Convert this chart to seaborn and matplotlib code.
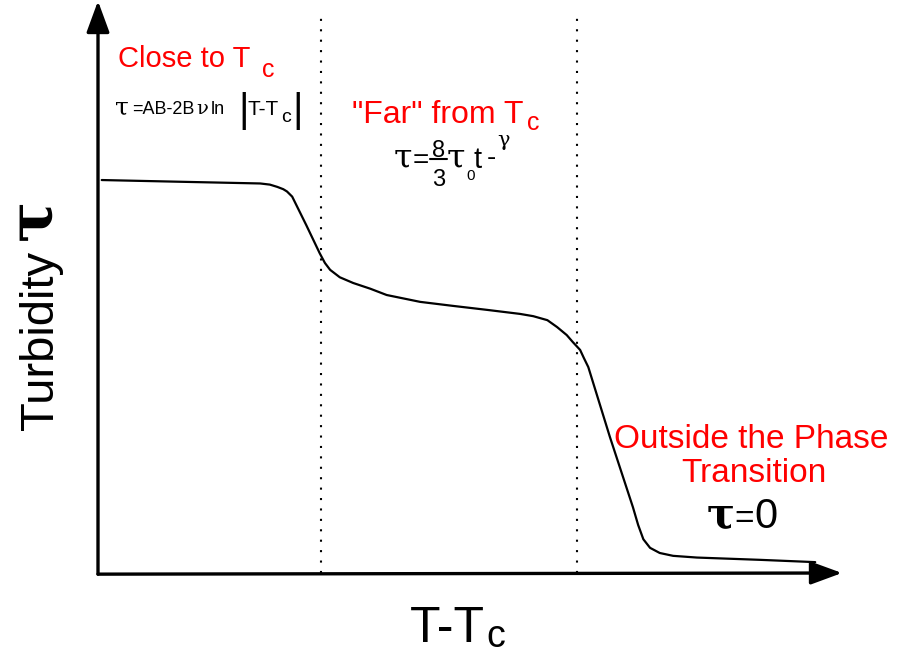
import matplotlib
matplotlib.use("Agg")
import matplotlib.pyplot as plt
from matplotlib.lines import Line2D
import seaborn as sns

sns.set_theme(style="white")
SANS = ["Liberation Sans", "DejaVu Sans"]
SERIF = ["DejaVu Serif"]
plt.rcParams["font.family"] = SANS

# Schematic turbidity curve versus distance from the critical temperature
temp = [0.05, 1.10, 2.18, 2.31, 2.41, 2.49, 2.54, 2.61, 2.80, 2.98, 3.05, 3.12,
        3.25, 3.43, 3.66, 3.88, 4.33, 4.77, 5.23, 5.67, 5.85, 6.04, 6.17, 6.30,
        6.38, 6.48, 6.53, 6.59, 6.88, 7.19, 7.26, 7.33, 7.42, 7.55, 7.73, 8.05,
        8.90, 9.64]
turbidity = [6.87, 6.84, 6.81, 6.79, 6.75, 6.71, 6.67, 6.58, 6.08, 5.59, 5.42, 5.30,
             5.17, 5.07, 4.97, 4.86, 4.74, 4.67, 4.60, 4.53, 4.49, 4.42, 4.30, 4.16,
             4.04, 3.90, 3.76, 3.60, 2.38, 1.15, 0.84, 0.59, 0.44, 0.35, 0.30, 0.27,
             0.23, 0.19]
boundaries = [3.0, 6.44]

W, H = 899, 656
fig = plt.figure(figsize=(W / 100, H / 100), dpi=100)
ax = fig.add_axes([98 / W, 83 / H, 744 / W, 572 / H])
ax.set_xlim(0, 10)
ax.set_ylim(0, 10)
ax.axis("off")

sns.lineplot(x=temp, y=turbidity, sort=False, color="black", lw=1.6, ax=ax)

for b in boundaries:
    ax.axvline(b, ymin=0, ymax=0.97, color="black", lw=1.5,
               linestyle=(0, (1, 4)))

arrow = dict(arrowstyle="-|>,head_length=0.6,head_width=0.22", lw=2.4,
             color="black", mutation_scale=32, shrinkA=0, shrinkB=0)
ax.annotate("", xy=(10, 0), xytext=(0, -0.02), arrowprops=arrow,
            annotation_clip=False)
ax.annotate("", xy=(0, 10), xytext=(0, -0.02), arrowprops=arrow,
            annotation_clip=False)


def put(x, y, s, size, family=SANS, weight="normal", color="black", **kw):
    """Place text with its left baseline at pixel (x, y) from the top-left."""
    kw.setdefault("ha", "left")
    kw.setdefault("va", "baseline")
    return fig.text(x / W, 1 - y / H, s, fontsize=size, family=family,
                    fontweight=weight, color=color, **kw)


red = "#ff0000"

# Region near the critical point
put(118, 67, "Close to T", 21, color=red)
put(262, 77, "c", 18, color=red)
put(115, 114, "τ", 18, family=SERIF)
put(132, 114, "=AB-2B", 13)
put(196, 114, "ν", 14, family=SERIF)
put(211, 114, "ln", 13)
put(238, 121.6, "|", 29)
put(247, 115, "T-T", 15)
put(281, 122, "c", 14)
put(292, 121.6, "|", 29)

# Intermediate region
put(352, 123, '"Far" from T', 23, color=red)
put(527, 130, "c", 18, color=red)
put(394, 168, "τ", 24, family=SERIF)
put(413, 168, "=", 20)
put(438.5, 157, "8", 17, ha="center")
put(438.5, 186, "3", 17, ha="center")
fig.add_artist(Line2D([430 / W, 447 / W], [1 - 158.5 / H, 1 - 158.5 / H],
                      color="black", lw=1.5))
put(447, 168, "τ", 24, family=SERIF)
put(466, 180, "0", 11)
put(474, 168, "t", 21)
put(487, 165, "-", 20)
put(497, 146, "γ", 15, family=SERIF)

# Beyond the transition
put(614, 448, "Outside the Phase", 24, color=red)
put(754, 482, "Transition", 24, color=red, ha="center")
put(707, 528, "τ", 30, family=SERIF, weight="bold")
put(734, 528, "=", 24)
put(754, 528, "0", 30)

# Axis titles
put(410, 642, "T-T", 36)
put(486, 647, "c", 27)
put(53, 430, "Turbidity", 34, rotation=90, rotation_mode="anchor")
put(50, 240, "τ", 44, family=SERIF, weight="bold", rotation=90,
    rotation_mode="anchor")

fig.savefig("out.png", dpi=100, facecolor="white")
